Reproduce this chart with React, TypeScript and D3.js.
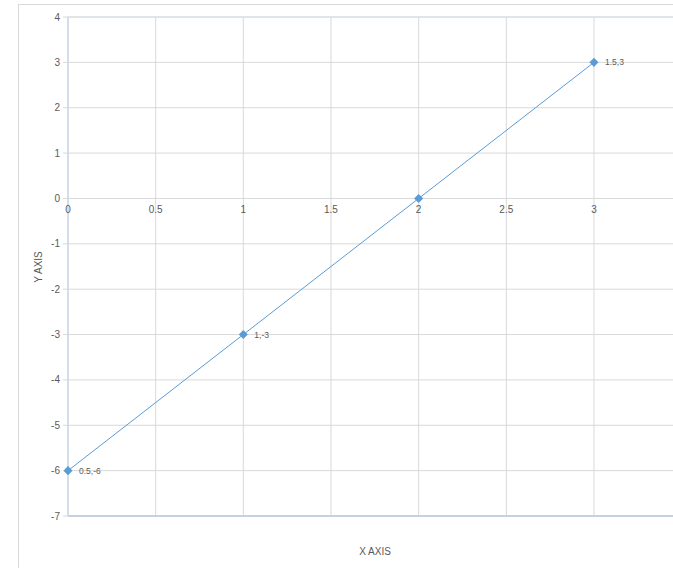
import React, { useRef, useEffect } from 'react'
import * as d3 from 'd3'

const width = 673
const height = 568

const xValues = [0, 1, 2, 3]
const yValues = [-6, -3, 0, 3]
const pointLabels = ['0.5,-6', '1,-3', '', '1.5,3']
const xTicks = [0, 0.5, 1, 1.5, 2, 2.5, 3]
const yTicks = [4, 3, 2, 1, 0, -1, -2, -3, -4, -5, -6, -7]

const margin = { left: 68, top: 17, right: 1, bottom: 52 }
const font = '"Liberation Sans", Arial, sans-serif'

const App: React.FC = () => {
  const svgRef = useRef<SVGSVGElement>(null)

  useEffect(() => {
    if (!svgRef.current) return
    const svg = d3.select(svgRef.current)
    svg.selectAll('*').remove()

    const x = d3.scaleLinear().domain([0, 3.445]).range([margin.left, width - margin.right])
    const y = d3.scaleLinear().domain([-7, 4]).range([height - margin.bottom, margin.top])

    // chart frame
    svg.append('rect')
      .attr('x', 18.5).attr('y', 4.5)
      .attr('width', width).attr('height', height)
      .attr('fill', '#fff').attr('stroke', '#d9d9d9')

    // vertical grid
    svg.append('g').selectAll('line')
      .data(xTicks.filter(d => d > 0))
      .join('line')
      .attr('x1', d => x(d)).attr('x2', d => x(d))
      .attr('y1', y(4)).attr('y2', y(-7))
      .attr('stroke', '#d9d9d9').attr('stroke-width', 1)

    // horizontal grid
    svg.append('g').selectAll('line')
      .data(yTicks.filter(d => d > -7))
      .join('line')
      .attr('x1', x(0)).attr('x2', width)
      .attr('y1', d => y(d)).attr('y2', d => y(d))
      .attr('stroke', '#d9d9d9').attr('stroke-width', 1)

    // y axis line and ticks
    svg.append('line')
      .attr('x1', x(0)).attr('x2', x(0))
      .attr('y1', y(4)).attr('y2', y(-7))
      .attr('stroke', '#c5d3e0').attr('stroke-width', 1.5)
    svg.append('g').selectAll('line')
      .data(yTicks)
      .join('line')
      .attr('x1', x(0) - 5).attr('x2', x(0))
      .attr('y1', d => y(d)).attr('y2', d => y(d))
      .attr('stroke', '#d9d9d9')
    svg.append('g').selectAll('text')
      .data(yTicks)
      .join('text')
      .attr('x', x(0) - 8).attr('y', d => y(d))
      .attr('dy', '0.35em')
      .attr('text-anchor', 'end')
      .attr('font-family', font).attr('font-size', 10).attr('fill', '#595959')
      .text(d => String(d))

    // bottom border line
    svg.append('line')
      .attr('x1', x(0)).attr('x2', width)
      .attr('y1', y(-7)).attr('y2', y(-7))
      .attr('stroke', '#c5d3e0').attr('stroke-width', 2)
    svg.append('line')
      .attr('x1', x(0)).attr('x2', width)
      .attr('y1', y(4)).attr('y2', y(4))
      .attr('stroke', '#d5dee8').attr('stroke-width', 1)

    // x tick labels at y = 0
    svg.append('g').selectAll('text')
      .data(xTicks)
      .join('text')
      .attr('x', d => x(d)).attr('y', y(0) + 15)
      .attr('text-anchor', 'middle')
      .attr('font-family', font).attr('font-size', 10).attr('fill', '#595959')
      .text(d => String(d))

    // series
    const pts = xValues.map((v, i) => [v, yValues[i]] as [number, number])
    const line = d3.line<[number, number]>().x(d => x(d[0])).y(d => y(d[1]))
    svg.append('path')
      .attr('d', line(pts) || '')
      .attr('fill', 'none').attr('stroke', '#5b9bd5').attr('stroke-width', 1)

    svg.append('g').selectAll('path')
      .data(pts)
      .join('path')
      .attr('d', d3.symbol().type(d3.symbolDiamond2).size(52)() || '')
      .attr('transform', d => `translate(${x(d[0])},${y(d[1])})`)
      .attr('fill', '#5b9bd5')

    svg.append('g').selectAll('text')
      .data(pts)
      .join('text')
      .attr('x', d => x(d[0]) + 11).attr('y', d => y(d[1]))
      .attr('dy', '0.35em')
      .attr('font-family', font).attr('font-size', 8.5).attr('fill', '#595959')
      .text((d, i) => pointLabels[i])

    // axis titles
    svg.append('text')
      .attr('x', 375).attr('y', 555)
      .attr('text-anchor', 'middle')
      .attr('font-family', font).attr('font-size', 10).attr('fill', '#595959')
      .text('X AXIS')
    svg.append('text')
      .attr('transform', `translate(42,267) rotate(-90)`)
      .attr('text-anchor', 'middle')
      .attr('font-family', font).attr('font-size', 10).attr('fill', '#595959')
      .text('Y AXIS')
  }, [])

  return (
    <svg
      ref={svgRef}
      width={width}
      height={height}
      style={{ position: 'absolute', left: 0, top: 0 }}
    />
  )
}

export default App
